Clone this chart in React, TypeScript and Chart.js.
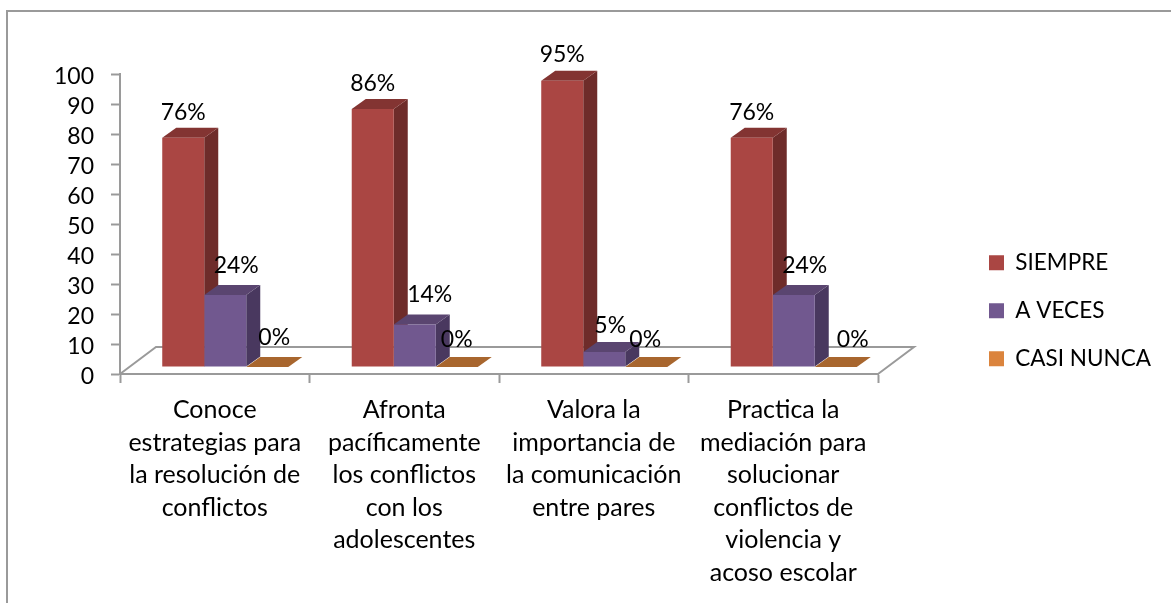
import React, { useEffect, useRef } from "react";
import { Chart, registerables } from "chart.js";

Chart.register(...registerables);

const categories = [
  ["Conoce", "estrategias para", "la resolución de", "conflictos"],
  ["Afronta", "pacíficamente", "los conflictos", "con los", "adolescentes"],
  ["Valora la", "importancia de", "la comunicación", "entre pares"],
  ["Practica la", "mediación para", "solucionar", "conflictos de", "violencia y", "acoso escolar"],
];
const siempre = [76.4, 86, 95.4, 76.4];
const aVeces = [24, 14.2, 5, 24];
const casiNunca = [0, 0, 0, 0];

const FONT = "Lato";
const GRAY = "#9a9a9a";
const depthX = 14;
const depthY = 10;
const shiftX = 10.5;
const shiftY = -7;
const faces = [
  { side: "#6e2c2a", top: "#833432" },
  { side: "#49385f", top: "#5a4570" },
  { side: "#a8662e", top: "#a8662e" },
];
const labelNudge = [
  [[0, 1], [11, -3], [7, -3]],
  [[0, 1], [15, -3], [0, -1]],
  [[0, 0], [6, 0], [-1, -1]],
  [[0, 1], [11, -3], [17, -1]],
];

const poly = (ctx: any, pts: number[][], fill: string) => {
  ctx.beginPath();
  pts.forEach((p, i) => (i ? ctx.lineTo(p[0], p[1]) : ctx.moveTo(p[0], p[1])));
  ctx.closePath();
  ctx.fillStyle = fill;
  ctx.fill();
};

const bar3d = {
  id: "bar3d",
  afterLayout(chart: any) {
    const l = chart.legend;
    l.left = 963.5;
    l.right = 1171;
    l.top = 226;
    l.bottom = 603;
    chart.scales.y.getLabelItems().forEach((it: any) => {
      const t = it.options.translation;
      it.options.translation = [t[0], t[1] + 2.5];
    });
  },
  beforeDraw(chart: any) {
    const { ctx, chartArea: a } = chart;
    ctx.save();
    ctx.strokeStyle = GRAY;
    ctx.lineWidth = 2;
    ctx.beginPath();
    ctx.moveTo(7, 603);
    ctx.lineTo(7, 11);
    ctx.lineTo(1171, 11);
    ctx.stroke();
    ctx.beginPath();
    ctx.moveTo(a.left, a.bottom);
    ctx.lineTo(a.left + 36, a.bottom - 27);
    ctx.lineTo(a.right + 36, a.bottom - 27);
    ctx.lineTo(a.right, a.bottom);
    ctx.stroke();
    ctx.restore();
  },
  beforeDatasetsDraw(chart: any) {
    const { ctx } = chart;
    ctx.save();
    ctx.translate(shiftX, shiftY);
    chart.data.datasets.forEach((_: any, d: number) => {
      chart.getDatasetMeta(d).data.forEach((b: any) => {
        const l = b.x - b.width / 2;
        const r = b.x + b.width / 2;
        poly(ctx, [[r, b.y], [r + depthX, b.y - depthY], [r + depthX, b.base - depthY], [r, b.base]], faces[d].side);
        poly(ctx, [[l, b.y], [l + depthX, b.y - depthY], [r + depthX, b.y - depthY], [r, b.y]], faces[d].top);
      });
    });
  },
  afterDatasetsDraw(chart: any) {
    const { ctx } = chart;
    ctx.restore();
    ctx.save();
    ctx.font = `23px ${FONT}`;
    ctx.fillStyle = "#000";
    ctx.textAlign = "center";
    ctx.textBaseline = "alphabetic";
    chart.data.datasets.forEach((ds: any, d: number) => {
      chart.getDatasetMeta(d).data.forEach((b: any, i: number) => {
        const n = labelNudge[i][d];
        ctx.fillText(`${Math.round(ds.data[i])}%`, b.x + shiftX + n[0], b.y + shiftY - depthY - 9 + n[1]);
      });
    });
    ctx.restore();
  },
};

export default function App() {
  const ref = useRef<HTMLCanvasElement>(null);
  useEffect(() => {
    const chart = new Chart(ref.current as HTMLCanvasElement, {
      type: "bar",
      data: {
        labels: categories as any,
        datasets: [
          { label: "SIEMPRE", data: siempre, backgroundColor: "#aa4643" },
          { label: "A VECES", data: aVeces, backgroundColor: "#71588f" },
          { label: "CASI NUNCA", data: casiNunca, backgroundColor: "#db843d" },
        ],
      },
      options: {
        responsive: false,
        animation: false,
        layout: { padding: { left: 0, top: 74, right: 293, bottom: 0 } },
        datasets: { bar: { categoryPercentage: 0.665, barPercentage: 1, borderWidth: 0, clip: false as any } },
        plugins: {
          title: { display: false },
          tooltip: { enabled: false },
          legend: {
            position: "chartArea" as any,
            align: "start",
            labels: {
              boxWidth: 15,
              boxHeight: 15,
              padding: 25.5,
              color: "#000",
              font: { family: FONT, size: 22.5 },
            },
          },
        },
        scales: {
          x: {
            afterFit: (s: any) => { s.height = 229; },
            border: { color: GRAY, width: 2 },
            grid: { drawOnChartArea: false, tickLength: 9, tickColor: GRAY, tickWidth: 2 },
            ticks: {
              autoSkip: false,
              maxRotation: 0,
              padding: 11,
              color: "#000",
              font: { family: FONT, size: 25, lineHeight: 32.5 / 25 },
            },
          },
          y: {
            min: 0,
            max: 100,
            afterFit: (s: any) => { s.width = 120; },
            border: { color: GRAY, width: 2 },
            grid: { drawOnChartArea: false, tickLength: 9, tickColor: GRAY, tickWidth: 2 },
            ticks: {
              stepSize: 10,
              autoSkip: false,
              padding: 17,
              color: "#000",
              font: { family: FONT, size: 23 },
            },
          },
        },
      },
      plugins: [bar3d],
    });
    return () => chart.destroy();
  }, []);
  return (
    <div style={{ position: "absolute", left: 0, top: 0, width: 1171, height: 603 }}>
      <canvas ref={ref} width={1171} height={603} style={{ display: "block" }} />
    </div>
  );
}
